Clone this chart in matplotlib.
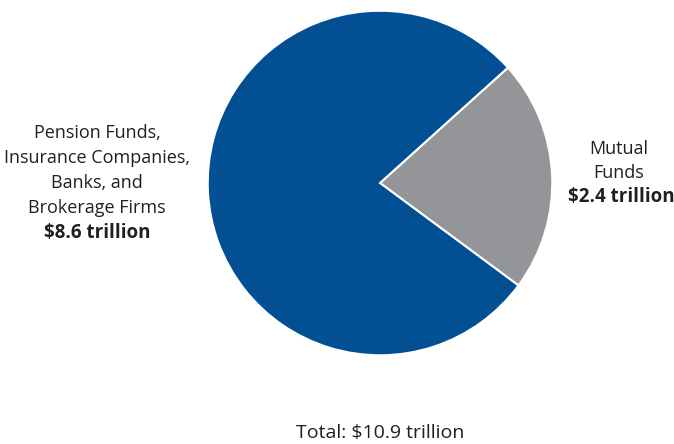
import matplotlib.pyplot as plt

plt.rcParams['font.family'] = ['Open Sans', 'DejaVu Sans']

# Holdings by category, trillions of dollars
categories = ['Mutual\nFunds', 'Pension Funds,\nInsurance Companies,\nBanks, and\nBrokerage Firms']
values = [2.4, 8.6]
value_labels = ['$2.4 trillion', '$8.6 trillion']
total_label = 'Total: $10.9 trillion'
colors = ['#939598', '#034f93']

W, H = 674, 444
fig = plt.figure(figsize=(W / 100, H / 100), dpi=100, facecolor='white')

# pie centered at (380, 183) px with radius 173 px
cx, cy, r = 380, 183, 174
ax = fig.add_axes([(cx - r) / W, (H - cy - r) / H, 2 * r / W, 2 * r / H])
ax.pie(values, colors=colors, startangle=-36.5, counterclock=True,
       radius=1, wedgeprops=dict(edgecolor='white', linewidth=1.5))
ax.set_xlim(-1.01, 1.01)
ax.set_ylim(-1.01, 1.01)
ax.set_aspect('equal')
ax.axis('off')

txt = '#231f20'
fs = 13
step = 25

def px(x, y):
    return x / W, 1 - y / H

# left block
left_lines = categories[1].split('\n')
for i, line in enumerate(left_lines):
    fig.text(*px(97, 133 + i * step), line, ha='center', va='center', fontsize=fs, color=txt)
fig.text(*px(97, 133 + len(left_lines) * step), value_labels[1], ha='center', va='center',
         fontsize=fs + 0.5, fontweight='bold', color=txt)

# right block
right_lines = categories[0].split('\n')
for i, line in enumerate(right_lines):
    fig.text(*px(619, 149 + i * 24), line, ha='center', va='center', fontsize=fs, color=txt)
fig.text(*px(621, 149 + len(right_lines) * 24), value_labels[0], ha='center', va='center',
         fontsize=fs + 0.5, fontweight='bold', color=txt)

fig.text(*px(380, 433), total_label, ha='center', va='center', fontsize=14, color=txt)

fig.savefig('out.png', dpi=100, facecolor='white')
